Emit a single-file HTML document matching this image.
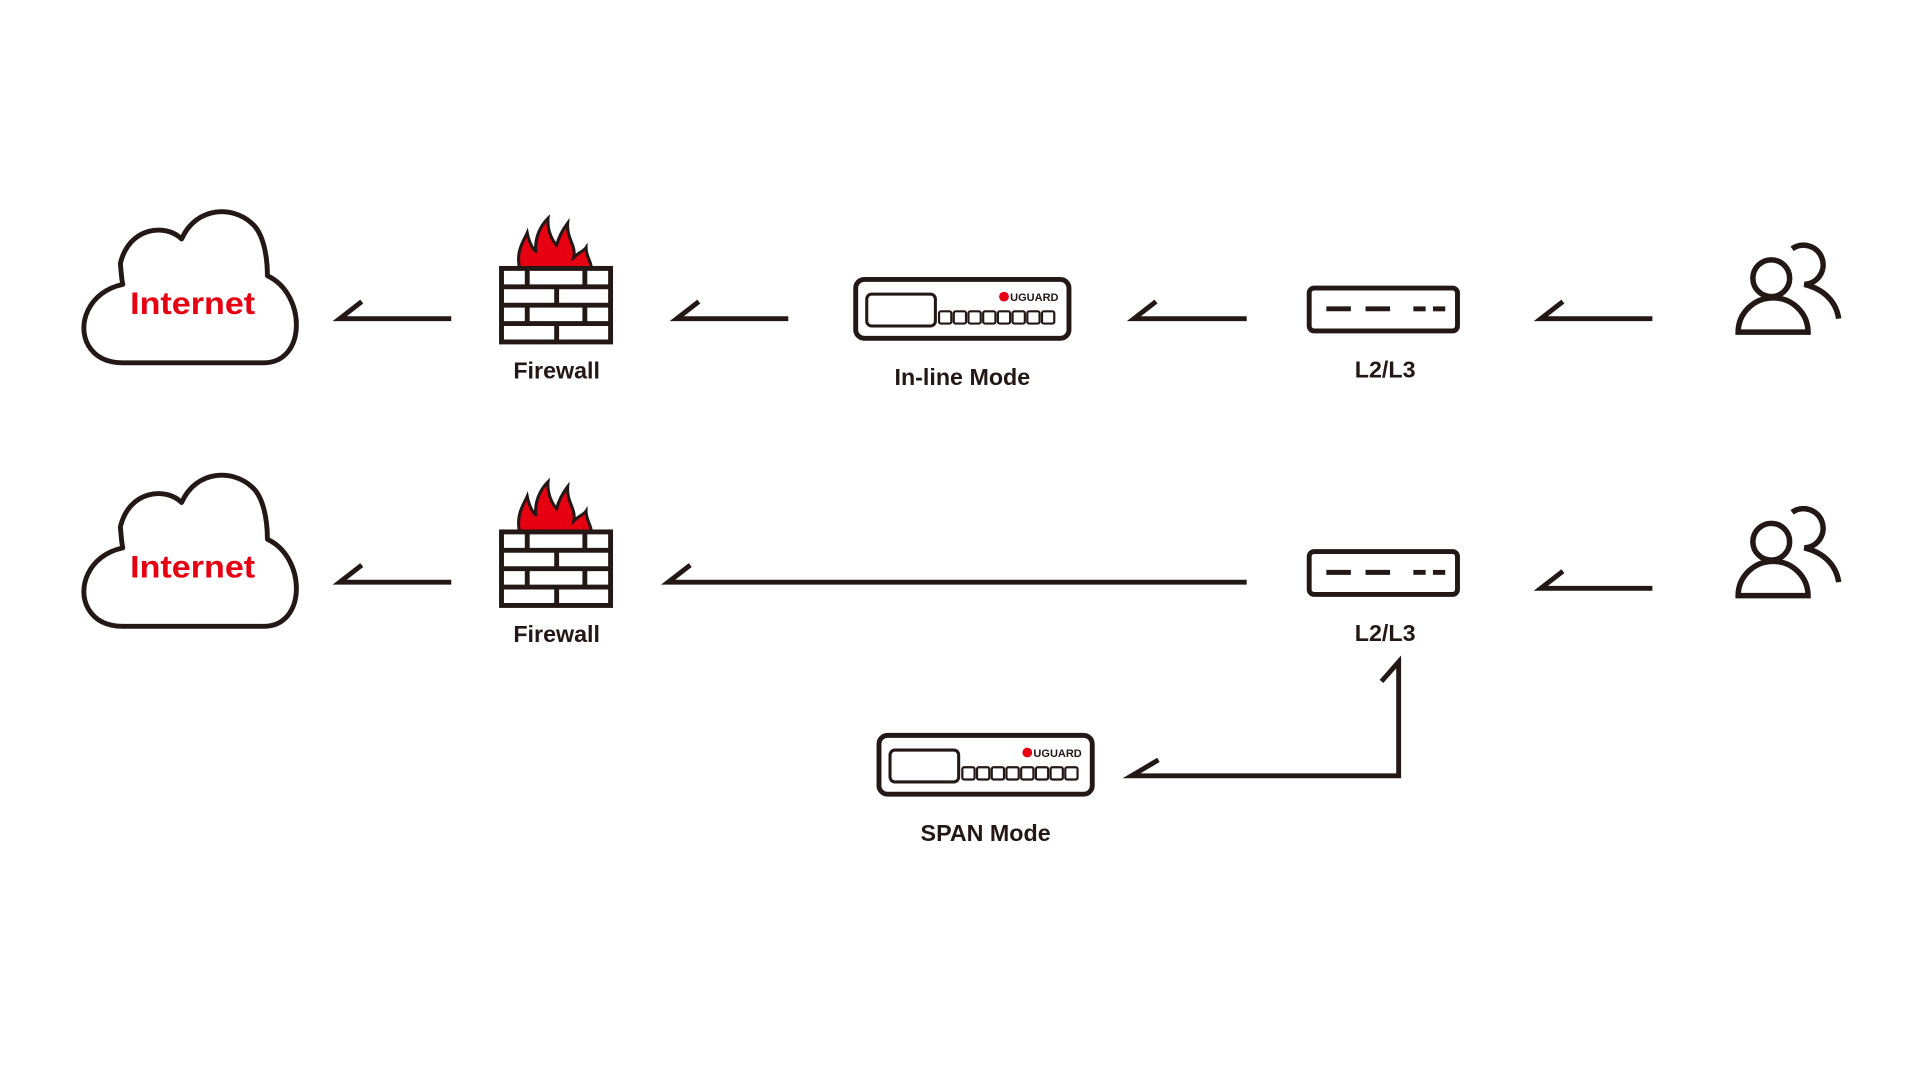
<!DOCTYPE html>
<html><head><meta charset="utf-8"><style>
html,body{margin:0;padding:0;background:#fff;}
svg{display:block}
text{font-family:"Liberation Sans","Noto Sans CJK JP",sans-serif;font-weight:bold;}
</style></head><body>
<svg width="1921" height="1081" viewBox="0 0 1567 882" xmlns="http://www.w3.org/2000/svg">
<defs>
<g id="cloud">
<path d="M100,296 L215,296 C250,296 250,240 218,225 C218,210 215,190 205,182 C190,168 160,168 148,195 C135,182 105,185 98,215 C99,225 99,228 100,232 C72,238 62,265 72,282 C78,292 88,296 100,296 Z" fill="#fff" stroke="#231815" stroke-width="4" stroke-linejoin="round"/>
</g>
<g id="fw">
<path d="M424,220 C420,205 428,195 430,190 C432,200 436,205 437,205 C436,195 440,185 447,178 C446,190 452,198 454,200 C456,192 460,186 463,182 C462,195 470,200 468,210 C472,206 476,205 478,202 C478,210 483,214 482,220 Z" fill="#e60012" stroke="#231815" stroke-width="2.5"/>
<rect x="409" y="219" width="89" height="60" fill="#fff" stroke="#231815" stroke-width="4"/>
<g stroke="#231815" stroke-width="4">
<line x1="409" y1="234" x2="498" y2="234"/><line x1="409" y1="249" x2="498" y2="249"/><line x1="409" y1="264" x2="498" y2="264"/>
<line x1="430" y1="219" x2="430" y2="234"/><line x1="477" y1="219" x2="477" y2="234"/>
<line x1="454" y1="234" x2="454" y2="249"/>
<line x1="430" y1="249" x2="430" y2="264"/><line x1="477" y1="249" x2="477" y2="264"/>
<line x1="454" y1="264" x2="454" y2="279"/>
</g>
</g>
<g id="sw">
<rect x="1068" y="235" width="121" height="35" rx="4" fill="#fff" stroke="#231815" stroke-width="4"/>
<g stroke="#231815" stroke-width="4"><line x1="1082" y1="252" x2="1102" y2="252"/><line x1="1114" y1="252" x2="1134" y2="252"/><line x1="1153" y1="252" x2="1163" y2="252"/><line x1="1169" y1="252" x2="1179" y2="252"/></g>
</g>
<g id="users" fill="none" stroke="#231815" stroke-width="4.5">
<circle cx="1445" cy="227" r="15"/>
<path d="M1418,271 A28.5,28 0 0 1 1475,271 Z" stroke-linejoin="miter"/>
<path d="M1462,203 A16,16 0 1 1 1472,232 C1488,236 1498,246 1500,260"/>
</g>
<g id="dev">
<rect x="698" y="228" width="174" height="48" rx="7" fill="#fff" stroke="#231815" stroke-width="4"/>
<rect x="707" y="240" width="56" height="26" rx="4" fill="none" stroke="#231815" stroke-width="2.5"/>
<g fill="none" stroke="#231815" stroke-width="1.8">
<rect x="766" y="254" width="10" height="10" rx="1.5"/><rect x="778" y="254" width="10" height="10" rx="1.5"/><rect x="790" y="254" width="10" height="10" rx="1.5"/><rect x="802" y="254" width="10" height="10" rx="1.5"/><rect x="814" y="254" width="10" height="10" rx="1.5"/><rect x="826" y="254" width="10" height="10" rx="1.5"/><rect x="838" y="254" width="10" height="10" rx="1.5"/><rect x="850" y="254" width="10" height="10" rx="1.5"/>
</g>
<circle cx="819" cy="242" r="4" fill="#e60012"/>
<text x="824" y="245.5" font-size="9" fill="#231815">UGUARD</text>
</g>
</defs>

<use href="#cloud"/>
<text x="157" y="256" font-size="26" fill="#e60012" text-anchor="middle" textLength="102" lengthAdjust="spacingAndGlyphs">Internet</text>
<use href="#fw"/>
<text x="454" y="309" font-size="19" fill="#231815" text-anchor="middle">Firewall</text>
<use href="#dev"/>
<text x="785" y="314" font-size="19" fill="#231815" text-anchor="middle">In-line Mode</text>
<use href="#sw"/>
<text x="1130" y="308" font-size="19" fill="#231815" text-anchor="middle">L2/L3</text>
<use href="#users"/>
<g fill="none" stroke="#231815" stroke-width="4" stroke-linejoin="miter">
<polyline points="295,246 277,260 368,260"/>
<polyline points="570,246 552,260 643,260"/>
<polyline points="943,246 925,260 1017,260"/>
<polyline points="1275,246 1257,260 1348,260"/>
</g>

<g transform="translate(0,215)">
<use href="#cloud"/>
<text x="157" y="256" font-size="26" fill="#e60012" text-anchor="middle" textLength="102" lengthAdjust="spacingAndGlyphs">Internet</text>
<use href="#fw"/>
<text x="454" y="309" font-size="19" fill="#231815" text-anchor="middle">Firewall</text>
<use href="#sw"/>
<text x="1130" y="308" font-size="19" fill="#231815" text-anchor="middle">L2/L3</text>
<use href="#users"/>
</g>
<g fill="none" stroke="#231815" stroke-width="4" stroke-linejoin="miter">
<polyline points="295,461 277,475 368,475"/>
<polyline points="563,461 545,475 1017,475"/>
<polyline points="1275,466 1257,480 1348,480"/>
<polyline points="1127,556 1141,540 1141,633 923,633 945,620"/>
</g>
<g transform="translate(19,372)"><use href="#dev"/></g>
<text x="804" y="686" font-size="19" fill="#231815" text-anchor="middle">SPAN Mode</text>
</svg>
</body></html>
